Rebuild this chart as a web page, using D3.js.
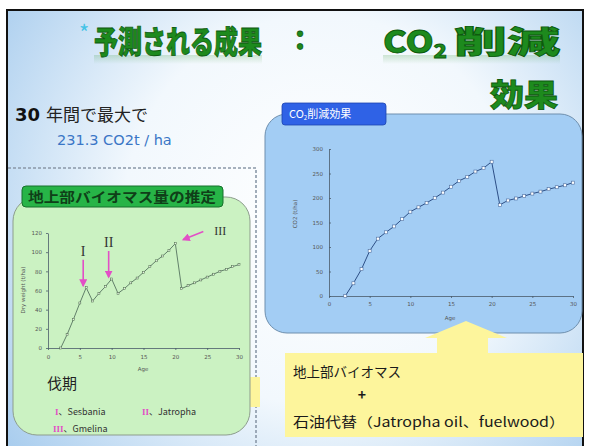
<!DOCTYPE html>
<html>
<head>
<meta charset="utf-8">
<script src="https://cdn.jsdelivr.net/npm/d3@7"></script>
<style>
  body { margin: 0; background: #fff; }
  svg { display: block; font-family: "Noto Sans CJK JP", "Noto Sans", sans-serif; }
  .axis text { font-family: "DejaVu Sans", sans-serif; font-size: 5.5px; fill: #555; }
  .axis path, .axis line { stroke: #4a5a6a; stroke-width: 0.8; }
</style>
</head>
<body>
<svg width="590" height="446"></svg>
<script>
// ages (years) shared by both series
var ages = [2, 3, 4, 5, 6, 7, 8, 9, 10, 11, 12, 13, 14, 15, 16,
            17, 18, 19, 20, 21, 22, 23, 24, 25, 26, 27, 28, 29, 30];
// above-ground biomass, dry weight t/ha
var biomass = [0, 14, 30, 47, 63, 49, 57, 64, 72, 57, 62, 68, 73, 79, 85,
               91, 96, 102, 109, 62, 65, 68, 71, 74, 77, 80, 82, 85, 87];
// CO2 reduction t/ha
var co2 = [0, 26, 55, 92, 117, 130, 142, 157, 172, 181, 190, 200, 211, 223, 235,
           243, 254, 261, 274, 186, 195, 199, 204, 209, 213, 218, 222, 226, 231.3];

var xTicks = [0, 5, 10, 15, 20, 25, 30];
var biomassTicks = [0, 20, 40, 60, 80, 100, 120];
var co2Ticks = [0, 50, 100, 150, 200, 250, 300];

var harvests = [
  { mark: "I", age: 6, name: "Sesbania" },
  { mark: "II", age: 10, name: "Jatropha" },
  { mark: "III", age: 20, name: "Gmelina" }
];

var svg = d3.select("svg");
var defs = svg.append("defs");

var bg = defs.append("radialGradient").attr("id", "bg")
    .attr("gradientUnits", "userSpaceOnUse")
    .attr("cx", 320).attr("cy", 210).attr("r", 390);
bg.append("stop").attr("offset", "0").attr("stop-color", "#ffffff");
bg.append("stop").attr("offset", "0.5").attr("stop-color", "#f2f8fd");
bg.append("stop").attr("offset", "1").attr("stop-color", "#a9cdee");

// soft green glow under the title, standing in for its reflection
var glow = defs.append("linearGradient").attr("id", "glow").attr("x1", 0).attr("y1", 0).attr("x2", 0).attr("y2", 1);
glow.append("stop").attr("offset", "0").attr("stop-color", "#3c9a3c").attr("stop-opacity", 0.22);
glow.append("stop").attr("offset", "1").attr("stop-color", "#3c9a3c").attr("stop-opacity", 0);

// slide frame
svg.append("rect").attr("x", 7).attr("y", 10).attr("width", 576).attr("height", 445)
    .attr("fill", "url(#bg)").attr("stroke", "#111").attr("stroke-width", 2);

[[94, 168], [383, 177]].forEach(function(s) {
  svg.append("rect").attr("x", s[0]).attr("y", 55).attr("width", s[1]).attr("height", 9)
      .attr("fill", "url(#glow)");
});

// title
var title = svg.append("g").attr("fill", "#1d8a1d").attr("stroke", "#0d5a0d")
    .attr("stroke-width", 0.8).attr("font-weight", 900).attr("font-size", 31);
// condensed first words: squeeze with a transform so the box stays true
title.append("g").attr("transform", "translate(94,53) scale(0.775,1)")
  .append("text").attr("x", 0).attr("y", 0).text("予測される成果");
title.append("text").attr("x", 300).attr("y", 50).attr("text-anchor", "middle")
    .attr("font-size", 26).text("：");
var co = title.append("text").attr("x", 383).attr("y", 53).attr("textLength", 64)
    .attr("lengthAdjust", "spacingAndGlyphs");
co.append("tspan").text("CO");
co.append("tspan").attr("font-size", 19).attr("dy", 5).text("2");
title.append("text").attr("x", 560).attr("y", 53).attr("text-anchor", "end")
    .attr("textLength", 106).attr("lengthAdjust", "spacingAndGlyphs").text("削減");
title.append("text").attr("x", 558).attr("y", 106).attr("text-anchor", "end")
    .attr("textLength", 68).attr("lengthAdjust", "spacingAndGlyphs").text("効果");

svg.append("text").attr("x", 79).attr("y", 41).attr("font-size", 22)
    .attr("fill", "#45c3e6").text("*");

// summary text
svg.append("text").attr("x", 15).attr("y", 121).attr("font-size", 18)
    .attr("font-weight", "bold").attr("fill", "#111")
    .attr("font-family", "DejaVu Sans").text("30");
svg.append("text").attr("x", 46).attr("y", 121).attr("font-size", 17).attr("fill", "#222")
    .text("年間で最大で");
svg.append("text").attr("x", 57).attr("y", 145).attr("font-size", 14.5).attr("fill", "#3a76c6")
    .attr("font-family", "DejaVu Sans").text("231.3 CO2t / ha");

// dashed separators
svg.append("path").attr("d", "M8,168H256V446")
    .attr("fill", "none").attr("stroke", "#8a98a8").attr("stroke-width", 1.6)
    .attr("stroke-dasharray", "3,2");

// yellow bit peeking from behind the left panel
svg.append("rect").attr("x", 246).attr("y", 377).attr("width", 14).attr("height", 30)
    .attr("fill", "#fdf59c");

// ---- left panel: biomass ----
svg.append("rect").attr("x", 13).attr("y", 197).attr("width", 237).attr("height", 238)
    .attr("rx", 24).attr("fill", "#cbf2c2").attr("stroke", "#8d9d8d").attr("stroke-width", 1);
svg.append("rect").attr("x", 22).attr("y", 186).attr("width", 201).attr("height", 21)
    .attr("rx", 4).attr("fill", "#27b447").attr("stroke", "#17702c").attr("stroke-width", 1);
svg.append("text").attr("x", 122).attr("y", 202).attr("text-anchor", "middle")
    .attr("font-size", 14).attr("fill", "#0f3f18").attr("font-weight", "bold")
    .attr("textLength", 188).attr("lengthAdjust", "spacingAndGlyphs")
    .text("地上部バイオマス量の推定");

var xL = d3.scaleLinear().domain([0, 30]).range([48, 239]);
var yL = d3.scaleLinear().domain([0, 120]).range([348, 233]);

svg.append("g").attr("class", "axis").attr("transform", "translate(0," + yL(0) + ")")
    .call(d3.axisBottom(xL).tickValues(xTicks).tickSizeInner(2).tickSizeOuter(0).tickPadding(5));
svg.append("g").attr("class", "axis").attr("transform", "translate(" + xL(0) + ",0)")
    .call(d3.axisLeft(yL).tickValues(biomassTicks).tickSizeInner(2).tickSizeOuter(0).tickPadding(4));
svg.append("text").attr("x", 143).attr("y", 371).attr("text-anchor", "middle")
    .attr("font-size", 5.5).attr("fill", "#555").attr("font-family", "DejaVu Sans").text("Age");
svg.append("text").attr("transform", "translate(25,290) rotate(-90)").attr("text-anchor", "middle")
    .attr("font-size", 5.5).attr("fill", "#555").attr("font-family", "DejaVu Sans")
    .text("Dry weight (t/ha)");

var leftPts = ages.map(function(a, i) { return [a, biomass[i]]; });
svg.append("path").datum(leftPts)
    .attr("fill", "none").attr("stroke", "#62806a").attr("stroke-width", 1)
    .attr("d", d3.line().x(function(d) { return xL(d[0]); }).y(function(d) { return yL(d[1]); }));
svg.append("g").selectAll("rect").data(leftPts).enter().append("rect")
    .attr("x", function(d) { return xL(d[0]) - 1; })
    .attr("y", function(d) { return yL(d[1]) - 1; })
    .attr("width", 2).attr("height", 2)
    .attr("fill", "#e6f5e0").attr("stroke", "#4a664a").attr("stroke-width", 0.5);

// harvest markers
var pink = "#e24fc6";
defs.append("marker").attr("id", "ah").attr("viewBox", "0 0 10 10").attr("refX", 8).attr("refY", 5)
    .attr("markerWidth", 5).attr("markerHeight", 5).attr("orient", "auto")
  .append("path").attr("d", "M0,0L10,5L0,10z").attr("fill", pink);

harvests.forEach(function(h) {
  var v = biomass[ages.indexOf(h.age)];
  var x = xL(h.age), y = yL(v);
  if (h.mark === "III") {
    svg.append("line").attr("x1", x + 28).attr("y1", y - 12).attr("x2", x + 8).attr("y2", y - 4)
        .attr("stroke", pink).attr("stroke-width", 1.6).attr("marker-end", "url(#ah)");
    svg.append("text").attr("x", x + 45).attr("y", y - 9).attr("text-anchor", "middle")
        .attr("font-family", "Liberation Serif").attr("font-size", 12).attr("fill", "#333")
        .text(h.mark);
  } else {
    svg.append("line").attr("x1", x - 3).attr("y1", y - 28).attr("x2", x - 3).attr("y2", y - 2)
        .attr("stroke", pink).attr("stroke-width", 1.6).attr("marker-end", "url(#ah)");
    svg.append("text").attr("x", x - 3).attr("y", y - 32).attr("text-anchor", "middle")
        .attr("font-family", "Liberation Serif").attr("font-size", 14).attr("fill", "#333")
        .text(h.mark);
  }
});

svg.append("text").attr("x", 47).attr("y", 389).attr("font-size", 15).attr("fill", "#222")
    .text("伐期");
var legendPos = [[55, 415], [142, 415], [53, 432]];
harvests.forEach(function(h, i) {
  var t = svg.append("text").attr("x", legendPos[i][0]).attr("y", legendPos[i][1])
      .attr("font-size", 9).attr("fill", "#333");
  t.append("tspan").attr("fill", pink).attr("font-family", "Liberation Serif")
      .attr("font-weight", "bold").text(h.mark);
  t.append("tspan").text("、" + h.name);
});

// ---- right panel: CO2 ----
svg.append("rect").attr("x", 265).attr("y", 114).attr("width", 317).attr("height", 219)
    .attr("rx", 22).attr("fill", "#a3cdf4").attr("stroke", "#6e8fae").attr("stroke-width", 1);
svg.append("rect").attr("x", 282).attr("y", 103).attr("width", 104).attr("height", 22)
    .attr("rx", 3).attr("fill", "#2f62e6").attr("stroke", "#1d44b0").attr("stroke-width", 0.8);
var tab = svg.append("text").attr("x", 289).attr("y", 118).attr("font-size", 11).attr("fill", "#fff");
tab.append("tspan").text("CO");
tab.append("tspan").attr("font-size", 6).attr("dy", 2).text("2");
tab.append("tspan").attr("dy", -2).text("削減効果");

var xR = d3.scaleLinear().domain([0, 30]).range([329, 573]);
var yR = d3.scaleLinear().domain([0, 300]).range([296, 149]);

svg.append("g").attr("class", "axis").attr("transform", "translate(0," + yR(0) + ")")
    .call(d3.axisBottom(xR).tickValues(xTicks).tickSizeInner(2).tickSizeOuter(0).tickPadding(4));
svg.append("g").attr("class", "axis").attr("transform", "translate(" + xR(0) + ",0)")
    .call(d3.axisLeft(yR).tickValues(co2Ticks).tickSizeInner(-2).tickSizeOuter(0).tickPadding(6));
svg.append("text").attr("x", 450).attr("y", 320).attr("text-anchor", "middle")
    .attr("font-size", 5.5).attr("fill", "#555").attr("font-family", "DejaVu Sans").text("Age");
svg.append("text").attr("transform", "translate(297,214) rotate(-90)").attr("text-anchor", "middle")
    .attr("font-size", 5.5).attr("fill", "#555").attr("font-family", "DejaVu Sans")
    .text("CO2 (t/ha)");

var rightPts = ages.map(function(a, i) { return [a, co2[i]]; });
svg.append("path").datum(rightPts)
    .attr("fill", "none").attr("stroke", "#2d4f86").attr("stroke-width", 1)
    .attr("d", d3.line().x(function(d) { return xR(d[0]); }).y(function(d) { return yR(d[1]); }));
svg.append("g").selectAll("rect").data(rightPts).enter().append("rect")
    .attr("x", function(d) { return xR(d[0]) - 1.5; })
    .attr("y", function(d) { return yR(d[1]) - 1.5; })
    .attr("width", 3).attr("height", 3)
    .attr("fill", "#fff").attr("stroke", "#4d6d9e").attr("stroke-width", 0.6);

// ---- yellow arrow + box ----
var yellow = "#fdf59c";
svg.append("path").attr("d", "M437,354V338H425L466,321L507,338H488V354Z").attr("fill", yellow);
svg.append("rect").attr("x", 285).attr("y", 353).attr("width", 298).attr("height", 84)
    .attr("fill", yellow);
svg.append("text").attr("x", 293).attr("y", 377).attr("font-size", 13.5).attr("fill", "#1a1a1a")
    .text("地上部バイオマス");
svg.append("text").attr("x", 362).attr("y", 400).attr("text-anchor", "middle")
    .attr("font-size", 14).attr("fill", "#1a1a1a").attr("font-weight", "bold").text("+");
svg.append("text").attr("x", 293).attr("y", 427).attr("font-size", 13.5).attr("fill", "#1a1a1a")
    .attr("textLength", 272).attr("lengthAdjust", "spacingAndGlyphs")
    .text("石油代替（Jatropha oil、fuelwood）");
</script>
</body>
</html>
